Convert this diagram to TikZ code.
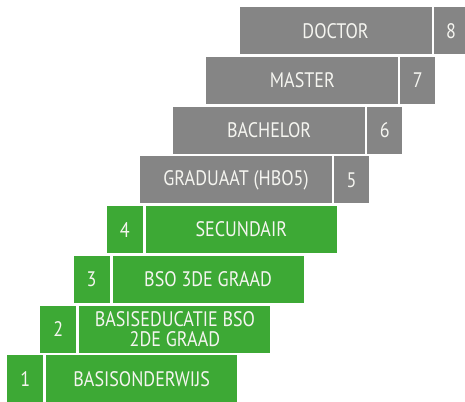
\documentclass[tikz,border=0pt]{standalone}
\usepackage{fontspec}
\setmainfont{PT Sans}[FakeStretch=0.86]
\definecolor{edgreen}{RGB}{61,169,53}
\definecolor{edgray}{RGB}{133,133,133}
\definecolor{edtext}{RGB}{245,245,240}
\begin{document}
\begin{tikzpicture}[x=1pt,y=1pt,
  box/.style={anchor=north west, inner sep=0pt, minimum height=47pt, text=edtext, font=\fontsize{21}{20}\selectfont, align=center},
  gbox/.style={box, fill=edgreen},
  ybox/.style={box, fill=edgray}]
\useasboundingbox (0,0) rectangle (465,-401);
\clip (0,0) rectangle (465,-401);
% green rows
\node[gbox, minimum width=36pt] (n1) at (7,-355) {1};
\node[gbox, minimum width=191pt] (t1) at (46,-355) {BASISONDERWIJS};
\node[gbox, minimum width=36pt] (n2) at (40.2,-305.3) {2};
\node[gbox, minimum width=191pt] (t2) at (79.2,-305.3) {BASISEDUCATIE BSO\\2DE GRAAD};
\node[gbox, minimum width=36pt] (n3) at (73.4,-255.6) {3};
\node[gbox, minimum width=191pt] (t3) at (112.4,-255.6) {BSO 3DE GRAAD};
\node[gbox, minimum width=36pt] (n4) at (106.6,-205.9) {4};
\node[gbox, minimum width=191pt] (t4) at (145.6,-205.9) {SECUNDAIR};
% gray rows
\node[ybox, minimum width=192pt] (t5) at (139.8,-156.2) {GRADUAAT (HBO5)};
\node[ybox, minimum width=35pt] (n5) at (333.8,-156.2) {5};
\node[ybox, minimum width=192pt] (t6) at (173,-106.5) {BACHELOR};
\node[ybox, minimum width=35pt] (n6) at (367,-106.5) {6};
\node[ybox, minimum width=192pt] (t7) at (206.2,-56.8) {MASTER};
\node[ybox, minimum width=35pt] (n7) at (400.2,-56.8) {7};
\node[ybox, minimum width=192pt] (t8) at (239.4,-7.1) {DOCTOR};
\node[ybox, minimum width=35pt] (n8) at (433.4,-7.1) {8};
\end{tikzpicture}
\end{document}
